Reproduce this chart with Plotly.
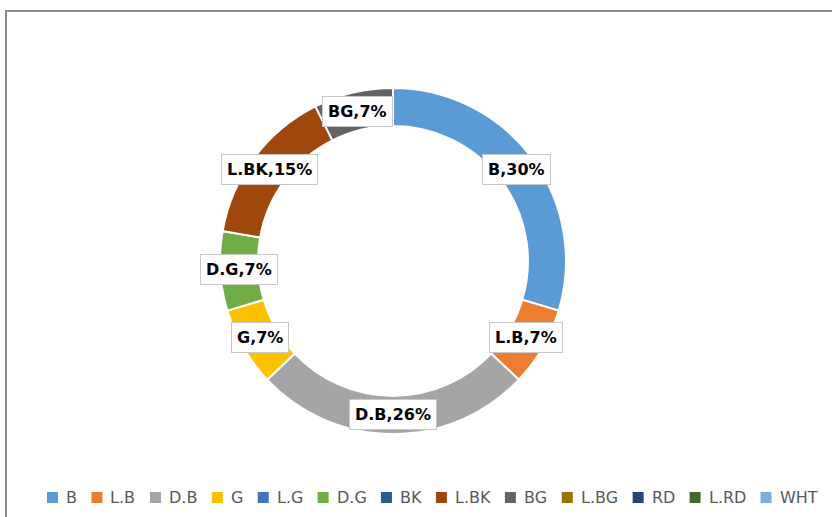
import math
import plotly.graph_objects as go

# ---- data ----
labels = ["B", "L.B", "D.B", "G", "L.G", "D.G", "BK", "L.BK", "BG", "L.BG", "RD", "L.RD", "WHT"]
counts = [8, 2, 7, 2, 0, 2, 0, 4, 2, 0, 0, 0, 0]
colors = ["#5B9BD5", "#ED7D31", "#A5A5A5", "#FFC000", "#4472C4", "#70AD47", "#255E91",
          "#9E480E", "#636363", "#997300", "#264478", "#43682B", "#7CAFDD"]

W, H = 832, 517
cx, cy, R = 393, 261, 173   # pixel centre and outer radius of the ring
hole = 0.78

fig = go.Figure()
fig.add_trace(go.Pie(
    labels=labels, values=counts, hole=hole, sort=False, direction="clockwise", rotation=0,
    marker=dict(colors=colors, line=dict(color="white", width=2)),
    textinfo="none", hoverinfo="label+percent", showlegend=False,
    domain=dict(x=[(cx - R) / W, (cx + R) / W], y=[1 - (cy + R) / H, 1 - (cy - R) / H]),
))

# boxed data labels at the middle of each slice
total = sum(counts)
cum = 0
rmid = R * (1 + hole) / 2
for lab, v in zip(labels, counts):
    if v > 0:
        mid = (cum + v / 2) / total * 2 * math.pi
        px = cx + rmid * math.sin(mid)
        py = cy - rmid * math.cos(mid)
        fig.add_annotation(
            x=px / W, y=1 - py / H, xref="paper", yref="paper",
            text=f"{lab},{round(100 * v / total)}%", showarrow=False,
            font=dict(family="DejaVu Sans", size=16, color="#000000", weight="bold"),
            bgcolor="white", bordercolor="#C8C8C8", borderwidth=1, borderpad=5,
            xanchor="center", yanchor="middle",
        )
    cum += v

# legend row (square swatch + label), laid out with approximate DejaVu Sans advance widths
char_w = {"B": .686, "L": .557, ".": .318, "D": .770, "G": .775, "K": .656,
          "R": .695, "W": .989, "H": .752, "T": .611}
lg_font = 16
lg_y = 497.5
sq = 11
x = 47.0
for lab, col in zip(labels, colors):
    tw = sum(char_w.get(c, .6) for c in lab) * lg_font
    fig.add_shape(type="rect", xref="paper", yref="paper",
                  x0=x / W, x1=(x + sq) / W, y0=1 - (lg_y + sq / 2) / H, y1=1 - (lg_y - sq / 2) / H,
                  fillcolor=col, line=dict(width=0))
    fig.add_annotation(x=(x + sq + 6) / W, y=1 - lg_y / H, xref="paper", yref="paper",
                       text=lab, showarrow=False, xanchor="left", yanchor="middle",
                       font=dict(family="DejaVu Sans", size=lg_font, color="#595959"))
    x += sq + 6 + tw + 16.5

# chart frame
fig.add_shape(type="rect", xref="paper", yref="paper",
              x0=6 / W, x1=1.02, y0=-0.05, y1=1 - 11 / H,
              line=dict(color="#8C8C8C", width=2), fillcolor="rgba(0,0,0,0)", layer="below")

fig.update_layout(
    width=W, height=H,
    margin=dict(l=0, r=0, t=0, b=0),
    paper_bgcolor="white", plot_bgcolor="white",
    showlegend=False,
)

fig.write_html("out.html", config={"displayModeBar": False},
               post_script="document.body.style.margin='0px';")
